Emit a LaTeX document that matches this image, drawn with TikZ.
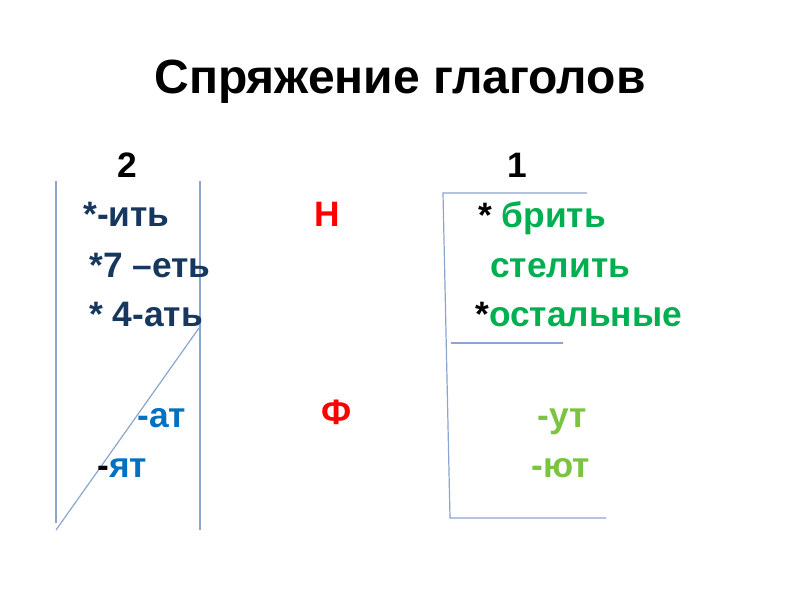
\documentclass[tikz,border=0pt]{standalone}
\usepackage{fontspec}
\setmainfont{Liberation Sans}

\definecolor{navy}{RGB}{23,55,94}
\definecolor{darkgreen}{RGB}{0,176,80}
\definecolor{lightgreen}{RGB}{122,196,66}
\definecolor{endblue}{RGB}{0,112,192}
\definecolor{rulecol}{RGB}{140,165,205}

\begin{document}
\begin{tikzpicture}[x=0.75pt, y=-0.75pt,
  every node/.style={inner sep=0pt, font=\bfseries\fontsize{26.5}{32}\selectfont}]

\useasboundingbox (0,0) rectangle (800,600);

\node (title) [anchor=base, font=\bfseries\fontsize{36}{42}\selectfont] at (400,93) {Спряжение глаголов};

\begin{scope}[line width=0.9pt, draw=rulecol]
\draw (56,181) -- (56,523);
\draw (200,181) -- (200,530);
\draw (56,530) -- (199,328);
\draw (587,193) -- (443,193) -- (450,518) -- (606,518);
\draw (451,343) -- (563,343);
\end{scope}

\node (two) [anchor=base] at (127,177) {2};
\node (one) [anchor=base] at (517,177) {1};

\begin{scope}[every node/.append style={anchor=base west, text=navy}]
\node (it) at (83,226) {*-ить};
\node (et) at (89,277) {*7 –еть};
\node (at) at (89,326) {* 4-ать};
\end{scope}

\node (n) [anchor=base, text=red] at (327,226) {Н};
\node (f) [anchor=base, text=red] at (337,424) {Ф};

\begin{scope}[every node/.append style={anchor=base west, text=darkgreen}]
\node (brit) at (478,227) {\textcolor{black}{*} брить};
\node (stelit) at (490,277) {стелить};
\node (rest) at (475,326) {\textcolor{black}{*}остальные};
\end{scope}

\node (a) [anchor=base west, text=endblue] at (137,427) {-ат};
\node (ya) [anchor=base west, text=endblue] at (97,477) {\textcolor{black}{-}ят};
\node (u) [anchor=base west, text=lightgreen] at (537,427) {-ут};
\node (yu) [anchor=base west, text=lightgreen] at (531,477) {-ют};

\end{tikzpicture}
\end{document}
